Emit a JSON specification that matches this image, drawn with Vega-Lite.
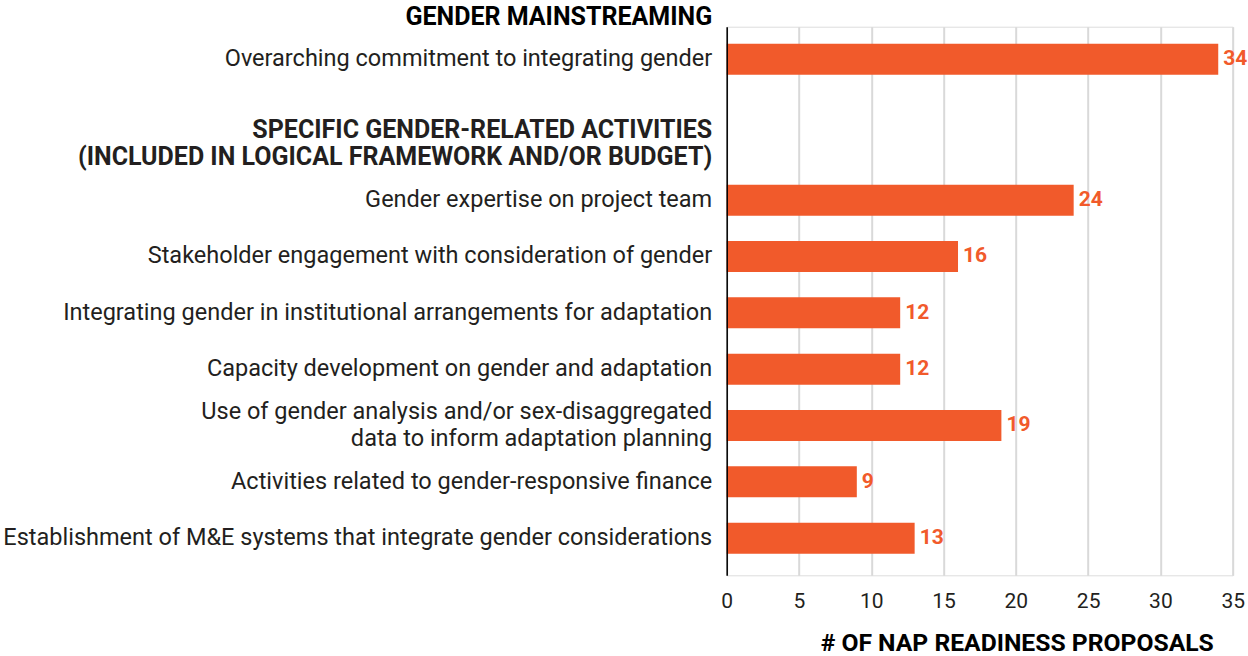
{
  "$schema": "https://vega.github.io/schema/vega-lite/v6.json",
  "width": 506,
  "height": 548.6,
  "autosize": {"type": "none"},
  "padding": {"left": 726.7, "top": 26.7, "right": 15.3, "bottom": 80.7},
  "background": "white",
  "data": {
    "values": [
      {"item": "Overarching commitment to integrating gender", "n": 34},
      {"item": "Gender expertise on project team", "n": 24},
      {"item": "Stakeholder engagement with consideration of gender", "n": 16},
      {"item": "Integrating gender in institutional arrangements for adaptation", "n": 12},
      {"item": "Capacity development on gender and adaptation", "n": 12},
      {"item": "Use of gender analysis and/or sex-disaggregated \ndata to inform adaptation planning", "n": 19},
      {"item": "Activities related to gender-responsive finance", "n": 9},
      {"item": "Establishment of M&E systems that integrate gender considerations", "n": 13}
    ]
  },
  "encoding": {
    "y": {
      "field": "item",
      "type": "nominal",
      "sort": null,
      "scale": {
        "domain": [
          "Overarching commitment to integrating gender",
          "_s1", "_s2",
          "SPECIFIC GENDER-RELATED ACTIVITIES \n(INCLUDED IN LOGICAL FRAMEWORK AND/OR BUDGET)",
          "_s4",
          "Gender expertise on project team",
          "_s6",
          "Stakeholder engagement with consideration of gender",
          "_s8",
          "Integrating gender in institutional arrangements for adaptation",
          "_s10",
          "Capacity development on gender and adaptation",
          "_s12",
          "Use of gender analysis and/or sex-disaggregated \ndata to inform adaptation planning",
          "_s14",
          "Activities related to gender-responsive finance",
          "_s16",
          "Establishment of M&E systems that integrate gender considerations"
        ],
        "paddingInner": 0,
        "paddingOuter": 0.738,
        "align": 0.445
      },
      "axis": {
        "title": "GENDER MAINSTREAMING",
        "titleAngle": 0,
        "titleAlign": "right",
        "titleBaseline": "alphabetic",
        "titleX": -15,
        "titleY": -2.7,
        "titleFont": "Roboto",
        "titleFontSize": 25,
        "titleFontWeight": "bold",
        "titleColor": "#000000",
        "domain": true,
        "domainColor": "#000000",
        "domainWidth": 1.5,
        "ticks": false,
        "grid": false,
        "labelPadding": 15,
        "labelFont": "Roboto",
        "labelFontSize": {"condition": {"test": "indexof(datum.value, 'SPECIFIC') == 0", "value": 25}, "value": 23.5},
        "labelColor": "#231f20",
        "labelLimit": 1000,
        "labelLineHeight": 27,
        "labelOverlap": false,
        "labelOffset": {"condition": {"test": "indexof(datum.value, '\\n') >= 0", "value": -13.5}, "value": 0},
        "labelExpr": "indexof(datum.value, '_s') == 0 ? '' : split(datum.value, '\\n')",
        "labelFontWeight": {"condition": {"test": "indexof(datum.value, 'SPECIFIC') == 0", "value": "bold"}, "value": "normal"},
        "zindex": 1
      }
    }
  },
  "layer": [
    {
      "mark": {"type": "bar", "size": 31, "color": "#F15A2B"},
      "encoding": {
        "x": {
          "field": "n",
          "type": "quantitative",
          "scale": {"domain": [0, 35], "nice": false},
          "axis": {
            "title": "# OF NAP READINESS PROPOSALS",
            "values": [0, 5, 10, 15, 20, 25, 30, 35],
            "domain": false,
            "ticks": false,
            "tickSize": 0,
            "grid": true,
            "gridColor": "#d9d9d9",
            "gridWidth": 2,
            "labelFont": "Roboto",
            "labelFontSize": 21,
            "labelColor": "#231f20",
            "labelPadding": 15,
            "labelFlush": false,
            "labelBound": false,
            "titleFont": "Roboto",
            "titleFontSize": 24.7,
            "titleFontWeight": "bold",
            "titleColor": "#000000",
            "titleAlign": "right",
            "titleX": 486.6,
            "titleY": 75.4,
            "titleBaseline": "alphabetic"
          }
        }
      }
    },
    {
      "mark": {"type": "text", "align": "left", "baseline": "middle", "dx": 5, "font": "Roboto", "fontSize": 21, "fontWeight": "bold", "color": "#F15A2B"},
      "encoding": {
        "x": {"field": "n", "type": "quantitative"},
        "text": {"field": "n", "type": "quantitative"}
      }
    }
  ]
}
